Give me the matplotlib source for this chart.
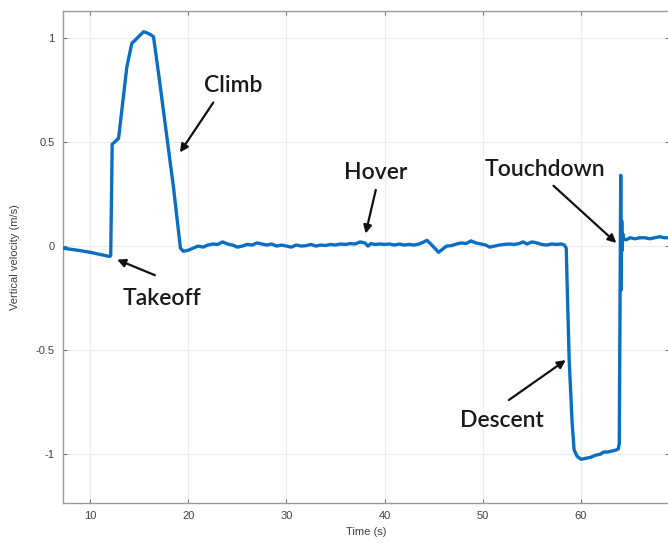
import matplotlib
matplotlib.use("Agg")
import matplotlib.pyplot as plt

# ---- data ----
climb_t = [7.24, 8.0, 9.0, 10.0, 11.0, 12.0, 12.1, 12.25, 12.5, 12.9, 13.3, 13.74, 14.25, 14.6,
           15.0, 15.44, 15.8, 16.2, 16.46, 17.0, 17.5, 18.0, 18.5, 19.0, 19.2]
climb_v = [-0.01, -0.015, -0.022, -0.03, -0.04, -0.05, -0.045, 0.49, 0.50, 0.518, 0.68, 0.86, 0.975, 0.99,
           1.01, 1.03, 1.025, 1.015, 1.006, 0.82, 0.64, 0.46, 0.28, 0.07, -0.01]

hover_t = [19.5, 20.0, 20.5, 21.0, 21.5, 22.0, 22.5, 23.0, 23.5, 24.0, 24.5, 25.0, 25.5, 26.0,
           26.5, 27.0, 27.5, 28.0, 28.5, 29.0, 29.5, 30.0, 30.5, 31.0, 31.5, 32.0, 32.5, 33.0,
           33.5, 34.0, 34.5, 35.0, 35.5, 36.0, 36.5, 37.0, 37.5, 38.0, 38.3, 38.6, 39.0, 39.5,
           40.0, 40.5, 41.0, 41.5, 42.0, 42.5, 43.0, 43.5, 44.0, 44.3, 44.7, 45.1, 45.5, 45.9,
           46.3, 46.8, 47.3, 47.8, 48.3, 48.8, 49.3, 49.8, 50.3, 50.7, 51.2, 51.7, 52.2, 52.7,
           53.2, 53.7, 54.1, 54.5, 55.0, 55.5, 56.0, 56.5, 57.0, 57.5, 58.0, 58.3, 58.5]
hover_v = [-0.025, -0.02, -0.01, 0.0, -0.005, 0.005, 0.01, 0.008, 0.02, 0.01, 0.005, -0.005, 0.0, 0.008,
           0.005, 0.015, 0.01, 0.005, 0.01, 0.0, 0.005, 0.0, -0.005, 0.005, 0.0, 0.002, 0.008, 0.0,
           0.005, 0.003, 0.008, 0.005, 0.01, 0.008, 0.012, 0.01, 0.02, 0.015, 0.0, 0.012, 0.008, 0.01,
           0.008, 0.01, 0.005, 0.01, 0.005, 0.008, 0.005, 0.01, 0.02, 0.028, 0.01, -0.01, -0.03, -0.015,
           0.0, 0.002, 0.01, 0.015, 0.012, 0.025, 0.015, 0.01, 0.005, -0.005, 0.0, 0.005, 0.008, 0.01,
           0.008, 0.012, 0.02, 0.01, 0.02, 0.015, 0.008, 0.005, 0.01, 0.008, 0.01, 0.005, -0.01]

descent_t = [58.6, 58.8, 59.1, 59.3, 59.6, 60.0, 60.5, 61.0, 61.5, 62.0, 62.3, 62.7, 63.2, 63.6,
             63.8, 63.9, 64.05, 64.1, 64.15, 64.2, 64.25, 64.35, 64.6, 65.0, 65.5, 66.0, 66.5,
             67.0, 67.5, 68.0, 68.5, 69.0]
descent_v = [-0.2, -0.55, -0.85, -0.98, -1.01, -1.025, -1.02, -1.015, -1.005, -1.0, -0.99, -0.99, -0.985, -0.98,
             -0.975, -0.95, 0.34, -0.21, 0.12, -0.02, 0.06, 0.035, 0.03, 0.04, 0.035, 0.04, 0.04,
             0.035, 0.04, 0.045, 0.04, 0.04]

time = climb_t + hover_t + descent_t
vel = climb_v + hover_v + descent_v

x_ticks = [10, 20, 30, 40, 50, 60]
y_ticks = [-1, -0.5, 0, 0.5, 1]
y_tick_labels = ["-1", "-0.5", "0", "0.5", "1"]

# annotations: label, text pos, arrow tail, arrow head
notes = [
    ("Climb",     (24.6, 0.774),  (22.55, 0.69),  (19.15, 0.45)),
    ("Takeoff",   (17.35, -0.25), (16.6, -0.14),  (12.75, -0.065)),
    ("Hover",     (39.1, 0.356),  (39.1, 0.27),   (38.06, 0.06)),
    ("Touchdown", (56.3, 0.37),   (57.2, 0.29),   (63.6, 0.015)),
    ("Descent",   (52.0, -0.837), (52.65, -0.74), (58.45, -0.548)),
]

fig = plt.figure(figsize=(6.68, 5.48), dpi=100)
ax = fig.add_axes([63 / 668, 1 - 503 / 548, 1 - 63 / 668 + 0.002, (503 - 11) / 548])

ax.plot(time, vel, color="#0a6fc2", lw=2.4, solid_joinstyle="round", zorder=3)

ax.set_xlim(7.24, 69.0)
ax.set_ylim(-1.235, 1.13)
ax.set_xticks(x_ticks)
ax.set_yticks(y_ticks)
ax.set_yticklabels(y_tick_labels)
ax.grid(True, color="#ececec", lw=0.8, zorder=0)
ax.set_axisbelow(True)
ax.tick_params(direction="in", length=3, width=0.8, color="#7a7a7a",
               labelsize=8, labelcolor="#404040", top=True, right=True, pad=6)
for side, sp in ax.spines.items():
    sp.set_color("#9a9a9a")
    sp.set_linewidth(1.0)
for lab in ax.get_xticklabels() + ax.get_yticklabels():
    lab.set_family("Liberation Sans")

ax.set_xlabel("Time (s)", fontsize=8, color="#404040", family="Liberation Sans", labelpad=4)
ax.set_ylabel("Vertical velocity (m/s)", fontsize=8, color="#404040", family="Liberation Sans", labelpad=11)

for label, tpos, tail, head in notes:
    ax.text(tpos[0], tpos[1], label, ha="center", va="center", fontsize=16.5,
            family="Lato", weight="semibold", color="#1a1a1a", zorder=5)
    ax.annotate("", xy=head, xytext=tail,
                arrowprops=dict(arrowstyle="-|>", color="#111111", lw=1.6,
                                mutation_scale=12, shrinkA=0, shrinkB=0), zorder=5)

fig.savefig("out.png", dpi=100)
